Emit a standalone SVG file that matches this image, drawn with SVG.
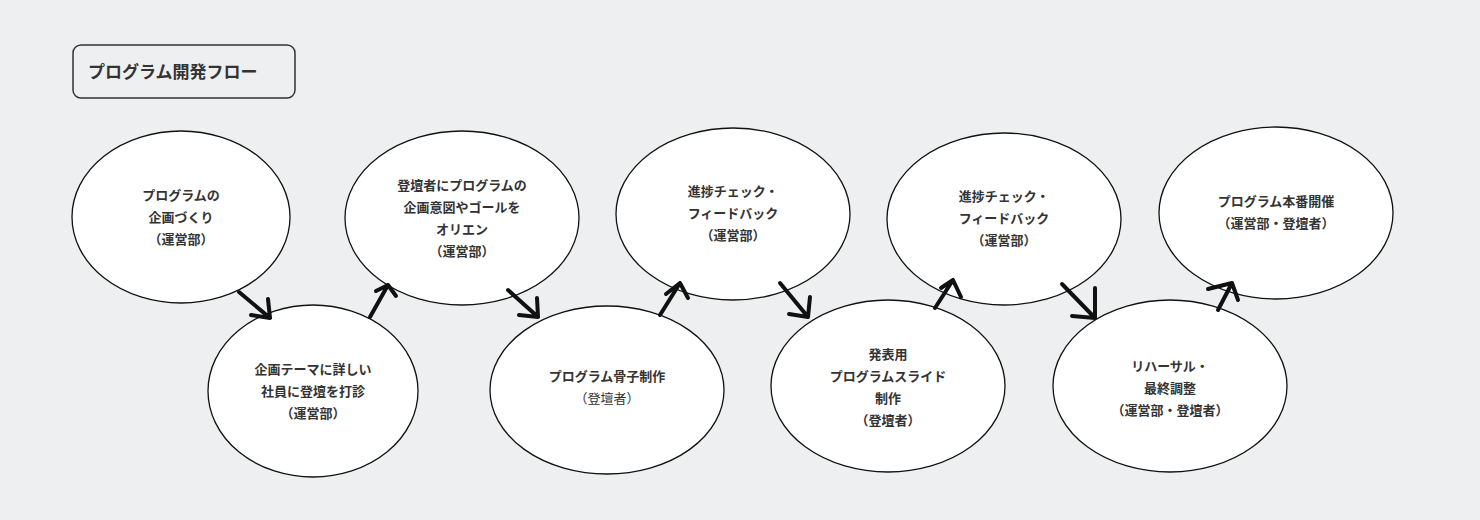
<svg xmlns="http://www.w3.org/2000/svg" width="1480" height="520" viewBox="0 0 1480 520">
<style>
.n ellipse{fill:#fff;stroke:#111;stroke-width:1.3}
text{font-family:"Noto Sans CJK JP","Noto Sans",sans-serif;font-size:13px;font-weight:bold;fill:#333;text-anchor:middle}
.c path{fill:none;stroke:#111;stroke-width:4;stroke-linecap:round;stroke-linejoin:round}
</style>
<rect width="1480" height="520" fill="#eeeff1"/>
<g id="title"><rect x="73" y="45" width="222" height="53" rx="8" fill="#eeeff1" stroke="#333" stroke-width="1.5"/><text x="88" y="78" style="font-size:17px;text-anchor:start">プログラム開発フロー</text></g>
<g id="n1" class="n"><ellipse cx="181" cy="217" rx="109" ry="86"/><text x="181" y="200">プログラムの</text><text x="181" y="222">企画づくり</text><text x="181" y="244">（運営部）</text></g>
<g id="n2" class="n"><ellipse cx="313" cy="391" rx="105" ry="86"/><text x="313" y="374">企画テーマに詳しい</text><text x="313" y="396">社員に登壇を打診</text><text x="313" y="418">（運営部）</text></g>
<g id="n3" class="n"><ellipse cx="462" cy="218" rx="117" ry="87"/><text x="462" y="190">登壇者にプログラムの</text><text x="462" y="212">企画意図やゴールを</text><text x="462" y="234">オリエン</text><text x="462" y="256">（運営部）</text></g>
<g id="n4" class="n"><ellipse cx="607" cy="390" rx="117" ry="84"/><text x="607" y="381">プログラム骨子制作</text><text x="607" y="403" style="font-weight:normal">（登壇者）</text></g>
<g id="n5" class="n"><ellipse cx="733" cy="214" rx="117" ry="86"/><text x="733" y="196">進捗チェック・</text><text x="733" y="218">フィードバック</text><text x="733" y="240">（運営部）</text></g>
<g id="n6" class="n"><ellipse cx="888" cy="386" rx="117" ry="86"/><text x="888" y="359">発表用</text><text x="888" y="381">プログラムスライド</text><text x="888" y="403">制作</text><text x="888" y="425">（登壇者）</text></g>
<g id="n7" class="n"><ellipse cx="1004" cy="219" rx="117" ry="86"/><text x="1004" y="201">進捗チェック・</text><text x="1004" y="223">フィードバック</text><text x="1004" y="245">（運営部）</text></g>
<g id="n8" class="n"><ellipse cx="1170" cy="386" rx="117" ry="86"/><text x="1170" y="371">リハーサル・</text><text x="1170" y="393">最終調整</text><text x="1170" y="415">（運営部・登壇者）</text></g>
<g id="n9" class="n"><ellipse cx="1276" cy="213" rx="117" ry="86"/><text x="1276" y="206">プログラム本番開催</text><text x="1276" y="228">（運営部・登壇者）</text></g>
<g id="connectors" class="c">
<path d="M239,292 L270,318 M251,315 L270,318 L268,299"/>
<path d="M370,317 L388,285 M376,291 L388,285 L396,296"/>
<path d="M508,290 L538,317 M519,315 L538,317 L537,298"/>
<path d="M660,315 L680,283 M666,294 L680,283 L688,298"/>
<path d="M780,283 L808,317 M789,314 L808,317 L810,297"/>
<path d="M935,308 L953,280 M941,288 L953,280 L961,297"/>
<path d="M1062,284 L1095,318 M1072,316 L1095,318 L1095,288"/>
<path d="M1218,310 L1232,283 M1208,289 L1232,283 L1238,300"/>
</g>
</svg>
